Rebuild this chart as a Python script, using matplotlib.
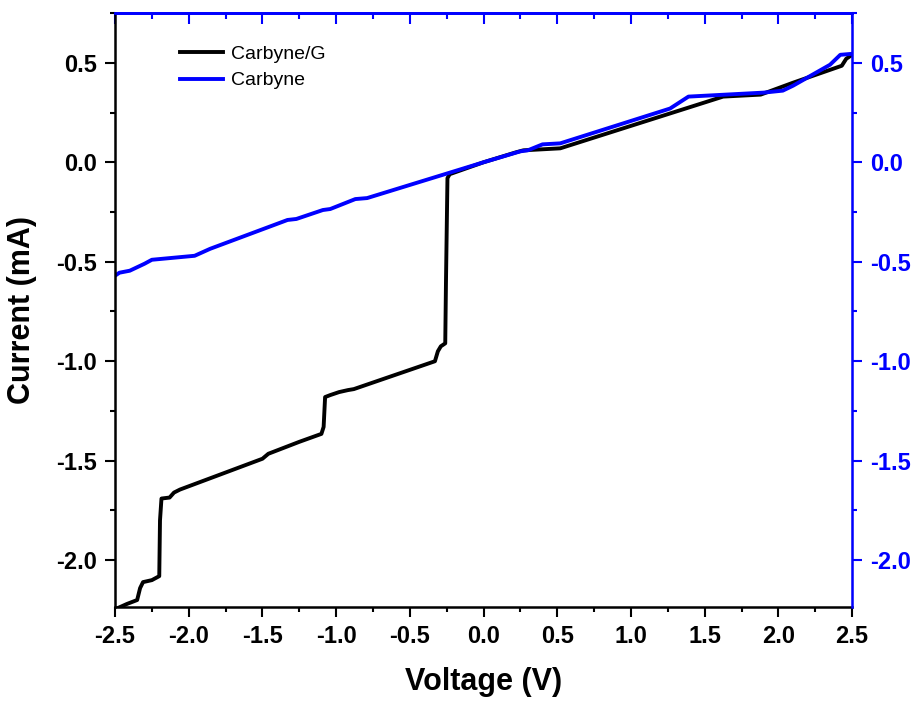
import matplotlib
matplotlib.use("Agg")
import matplotlib.pyplot as plt
from matplotlib.ticker import MultipleLocator, FormatStrFormatter

plt.rcParams['font.family'] = ['Liberation Sans', 'DejaVu Sans']

# Carbyne/G  (voltage in V, current in mA)
v_cg = [-2.50, -2.48, -2.42, -2.35, -2.33, -2.31, -2.25, -2.20, -2.195, -2.185,
        -2.13, -2.10, -2.06, -1.50, -1.46, -1.25, -1.10, -1.085, -1.075, -1.04,
        -0.98, -0.92, -0.88, -0.33, -0.31, -0.29, -0.26, -0.255, -0.245, -0.23,
        0.0, 0.22, 0.27, 0.52, 1.625, 1.88, 2.10, 2.43, 2.46, 2.50]
i_cg = [-2.25, -2.24, -2.22, -2.20, -2.14, -2.11, -2.10, -2.08, -1.80, -1.69,
        -1.685, -1.66, -1.645, -1.49, -1.465, -1.405, -1.365, -1.33, -1.18, -1.17,
        -1.155, -1.145, -1.14, -1.00, -0.95, -0.925, -0.91, -0.60, -0.08, -0.06,
        0.0, 0.05, 0.06, 0.07, 0.33, 0.34, 0.40, 0.485, 0.52, 0.54]

# Carbyne
v_c = [-2.50, -2.47, -2.40, -2.30, -2.25, -1.96, -1.90, -1.855, -1.33, -1.27,
       -1.09, -1.04, -0.87, -0.79, 0.0, 0.25, 0.30, 0.40, 0.52, 1.265,
       1.39, 1.90, 2.03, 2.10, 2.35, 2.42, 2.50]
i_c = [-0.57, -0.555, -0.545, -0.51, -0.49, -0.47, -0.45, -0.435, -0.29, -0.285,
       -0.24, -0.235, -0.185, -0.18, 0.0, 0.055, 0.06, 0.09, 0.095, 0.27,
       0.33, 0.35, 0.36, 0.385, 0.49, 0.54, 0.545]

blue = '#0000ff'
fig = plt.figure(figsize=(9.21, 7.04), dpi=100)
ax = fig.add_axes([0.1249, 0.1378, 0.8003, 0.8437])

ax.plot(v_cg, i_cg, color='black', lw=2.8, label='Carbyne/G')
ax.plot(v_c, i_c, color=blue, lw=2.8, label='Carbyne')

ax.set_xlim(-2.5, 2.5)
ax.set_ylim(-2.235, 0.75)
ax.xaxis.set_major_locator(MultipleLocator(0.5))
ax.xaxis.set_minor_locator(MultipleLocator(0.25))
ax.yaxis.set_major_locator(MultipleLocator(0.5))
ax.yaxis.set_minor_locator(MultipleLocator(0.25))
ax.xaxis.set_major_formatter(FormatStrFormatter('%.1f'))
ax.yaxis.set_major_formatter(FormatStrFormatter('%.1f'))

ax.tick_params(axis='both', which='major', direction='out', length=7, width=1.5,
               labelsize=17, pad=6)
ax.tick_params(axis='both', which='minor', direction='out', length=3.5, width=1.5)
for lab in ax.get_xticklabels() + ax.get_yticklabels():
    lab.set_fontweight('bold')

ax.set_xlabel('Voltage (V)', fontsize=22, fontweight='bold', labelpad=14)
ax.set_ylabel('Current (mA)', fontsize=22, fontweight='bold', labelpad=14)

for s in ['left', 'bottom']:
    ax.spines[s].set_linewidth(1.8)
ax.spines['top'].set_color(blue)
ax.spines['top'].set_linewidth(1.8)

# top ticks (inward, blue)
top = ax.secondary_xaxis('top')
top.xaxis.set_major_locator(MultipleLocator(0.5))
top.xaxis.set_minor_locator(MultipleLocator(0.25))
top.tick_params(which='major', direction='in', length=8, width=1.5, color=blue,
                labeltop=False)
top.tick_params(which='minor', direction='in', length=4, width=1.5, color=blue)
top.spines['top'].set_color(blue)
top.spines['top'].set_linewidth(1.8)

# right axis (blue)
ax2 = ax.twinx()
ax2.set_ylim(ax.get_ylim())
ax2.yaxis.set_major_locator(MultipleLocator(0.5))
ax2.yaxis.set_minor_locator(MultipleLocator(0.25))
ax2.yaxis.set_major_formatter(FormatStrFormatter('%.1f'))
ax2.tick_params(axis='y', which='major', direction='out', length=7, width=1.5,
                colors=blue, labelsize=17, pad=6)
ax2.tick_params(axis='y', which='minor', direction='out', length=3.5, width=1.5,
                colors=blue)
for lab in ax2.get_yticklabels():
    lab.set_fontweight('bold')
ax2.spines['right'].set_color(blue)
ax2.spines['right'].set_linewidth(1.8)
ax2.spines['top'].set_color(blue)
ax2.spines['top'].set_linewidth(1.8)
ax2.spines['left'].set_visible(False)
ax2.spines['bottom'].set_visible(False)

leg = ax.legend(loc='upper left', bbox_to_anchor=(0.065, 0.975), frameon=False,
                fontsize=14, handlelength=2.2, handletextpad=0.4,
                labelspacing=0.45)

fig.savefig('out.png', dpi=100)
